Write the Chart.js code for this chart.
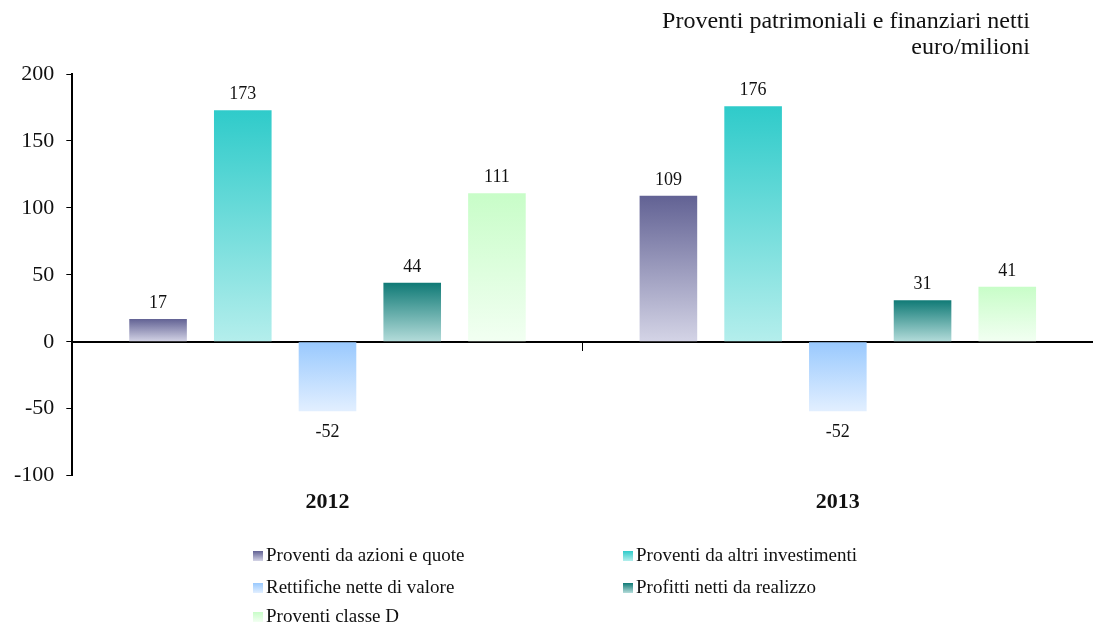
<!DOCTYPE html>
<html>
<head>
    <meta charset="utf-8" />
    <title>Proventi patrimoniali e finanziari netti</title>
    <script src="https://cdn.jsdelivr.net/npm/chart.js@4.4.1/dist/chart.umd.min.js"></script>
    <style>
        html, body { margin: 0; padding: 0; background: #fff; }
        body { width: 1093px; height: 625px; position: relative; overflow: hidden; font-family: "Liberation Serif", serif; }
        #cnv { position: absolute; left: 0; top: 0; }
        #titolo { position: absolute; right: 63px; top: 7px; text-align: right; font-size: 24px; line-height: 26px; color: #111; }
        #legenda { position: absolute; left: 0; top: 0; width: 1093px; height: 625px; pointer-events: none; }
        .voce { position: absolute; font-size: 19px; color: #111; white-space: nowrap; }
        .voce span { display: inline-block; width: 10px; height: 10px; margin-right: 3px; vertical-align: 0px; }
    </style>
</head>
<body>
    <canvas id="cnv" width="1093" height="625"></canvas>
    <div id="titolo">Proventi patrimoniali e finanziari netti<br>euro/milioni</div>
    <div id="legenda"></div>

    <script>
        const anni = ['2012', '2013'];
        const serie = ['Proventi da azioni e quote', 'Proventi da altri investimenti', 'Rettifiche nette di valore', 'Profitti netti da realizzo', 'Proventi classe D'];
        const azioniQuote = [17, 109];
        const altriInvestimenti = [173, 176];
        const rettifiche = [-52, -52];
        const profittiRealizzo = [44, 31];
        const classeD = [111, 41];
        const valori = [azioniQuote, altriInvestimenti, rettifiche, profittiRealizzo, classeD];
        // colore in alto / colore in basso della sfumatura
        const coloriAlto = ['#626294', '#2fcbca', '#99c9fe', '#107a76', '#c8fdc8'];
        const coloriBasso = ['#d4d4e6', '#b4eeec', '#e2efff', '#b4dcda', '#f2fff2'];

        function sfumatura(context, i) {
            const chart = context.chart;
            if (!chart.chartArea || context.raw === undefined) return coloriAlto[i];
            const y = chart.scales.y;
            const a = y.getPixelForValue(Math.max(context.raw, 0));
            const b = y.getPixelForValue(Math.min(context.raw, 0));
            const g = chart.ctx.createLinearGradient(0, a, 0, b === a ? a + 1 : b);
            g.addColorStop(0, coloriAlto[i]);
            g.addColorStop(1, coloriBasso[i]);
            return g;
        }

        const etichette = {
            id: 'etichette',
            afterDatasetsDraw(chart) {
                const ctx = chart.ctx;
                ctx.save();
                ctx.font = '18px "Liberation Serif"';
                ctx.fillStyle = '#111';
                ctx.textAlign = 'center';
                ctx.textBaseline = 'middle';
                chart.data.datasets.forEach((ds, i) => {
                    chart.getDatasetMeta(i).data.forEach((bar, j) => {
                        const v = ds.data[j];
                        const yy = v >= 0 ? bar.y - 16 : bar.y + 21;
                        ctx.fillText(String(v), bar.x, yy);
                    });
                });
                ctx.restore();
            }
        };

        const datasets = serie.map((nome, i) => ({
            label: nome,
            data: valori[i],
            xAxisID: 'x',
            backgroundColor: ctx => sfumatura(ctx, i),
            borderWidth: 0,
            barPercentage: 0.68,
            categoryPercentage: 0.83
        }));

        new Chart(document.getElementById('cnv').getContext('2d'), {
            type: 'bar',
            data: { labels: anni, datasets: datasets },
            options: {
                responsive: false,
                animation: false,
                layout: { padding: { top: 74, left: 2, right: 0, bottom: 103 } },
                plugins: {
                    legend: { display: false },
                    tooltip: { enabled: false }
                },
                scales: {
                    x: {
                        position: 'bottom',
                        border: { display: false },
                        grid: { display: false },
                        ticks: { color: '#111', padding: 6, font: { family: 'Liberation Serif', size: 22, weight: 'bold' } }
                    },
                    x2: {
                        type: 'category',
                        labels: anni,
                        position: { y: 0 },
                        border: { color: '#000', width: 2 },
                        grid: { drawOnChartArea: false, offset: true, color: '#000', lineWidth: 1, tickLength: 8 },
                        ticks: { display: false }
                    },
                    y: {
                        min: -100,
                        max: 200,
                        border: { color: '#000', width: 2 },
                        grid: { drawOnChartArea: false, color: '#000', tickLength: 6 },
                        ticks: { stepSize: 50, color: '#111', padding: 12, font: { family: 'Liberation Serif', size: 22 } }
                    }
                }
            },
            plugins: [etichette]
        });

        // legenda su due colonne
        const leg = document.getElementById('legenda');
        const posX = [253, 623];
        const posY = [544, 576, 605];
        serie.forEach((nome, i) => {
            const d = document.createElement('div');
            d.className = 'voce';
            d.style.left = posX[i % 2] + 'px';
            d.style.top = posY[Math.floor(i / 2)] + 'px';
            const q = document.createElement('span');
            q.style.background = 'linear-gradient(' + coloriAlto[i] + ',' + coloriBasso[i] + ')';
            d.appendChild(q);
            d.appendChild(document.createTextNode(nome));
            leg.appendChild(d);
        });
    </script>
</body>
</html>
